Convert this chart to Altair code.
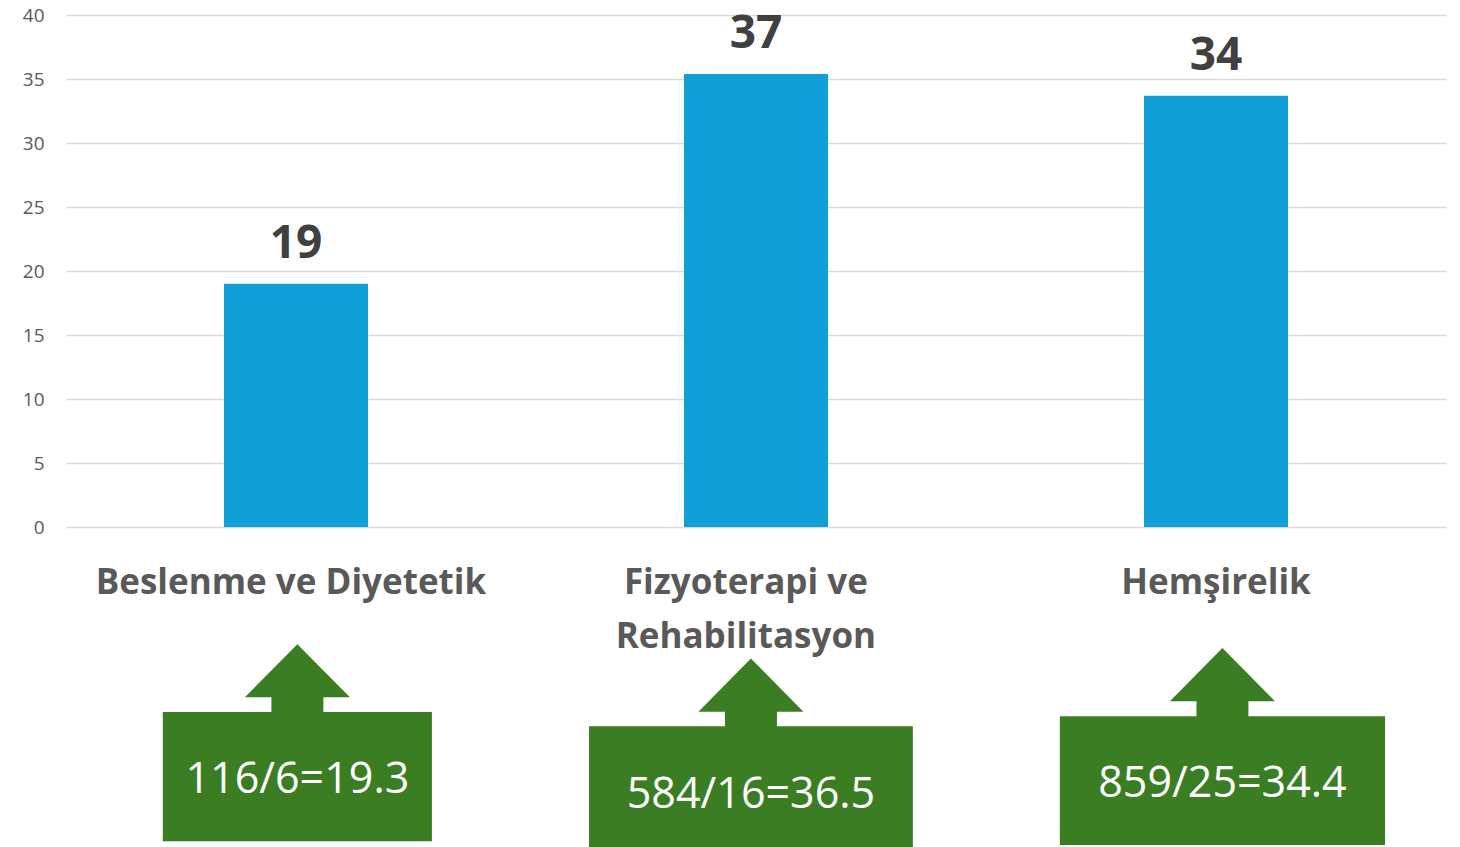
import altair as alt
import pandas as pd

# ---- data ----
categories = ["Beslenme ve Diyetetik", "Fizyoterapi ve\nRehabilitasyon", "Hemşirelik"]
bar_values = [19.0, 35.4, 33.7]
value_labels = ["19", "37", "34"]
box_texts = ["116/6=19.3", "584/16=36.5", "859/25=34.4"]
y_ticks = [0, 5, 10, 15, 20, 25, 30, 35, 40]

# ---- annotation layout (in axis units: x = category slot, y = value scale) ----
label_x = [0.489, 1.478, 2.5]
box_center = [0.503, 1.489, 2.514]
box_width = [0.585, 0.704, 0.707]
box_top = [-14.46, -15.56, -14.78]
box_bottom = [-24.55, -25.0, -24.85]
arrow_y = [-11.81, -12.94, -12.12]
box_text_y = [-20.78, -21.95, -21.1]

BLUE = "#119fd8"
GREEN = "#3b7d23"
FONT = "Open Sans"

df = pd.DataFrame({
    "cat": categories,
    "pos": [i + 0.5 for i in range(len(categories))],
    "value": bar_values,
    "vlabel": value_labels,
    "box_text": box_texts,
    "label_x": label_x,
    "bx": box_center,
    "bx1": [c - w / 2 for c, w in zip(box_center, box_width)],
    "bx2": [c + w / 2 for c, w in zip(box_center, box_width)],
    "by1": box_top,
    "by2": box_bottom,
    "ay": arrow_y,
    "ty": box_text_y,
})

xscale = alt.Scale(domain=[0, 3], nice=False, zero=False, padding=0)
yscale = alt.Scale(domain=[-25, 40], nice=False, zero=False, padding=0)

base = alt.Chart(df)

bars = base.mark_bar(size=144, color=BLUE).encode(
    x=alt.X("pos:Q", scale=xscale, axis=None),
    y=alt.Y("value:Q", scale=yscale,
            axis=alt.Axis(values=y_ticks, grid=True, gridColor="#d9d9d9", gridWidth=1.5,
                          domain=False, ticks=False, labelPadding=22, labelFontSize=19,
                          labelColor="#595959", labelFont=FONT, title=None)),
    y2=alt.datum(0),
)

value_text = base.mark_text(font=FONT, fontSize=46, fontWeight="bold", color="#404040",
                            baseline="alphabetic", dy=-26).encode(
    x=alt.X("pos:Q", scale=xscale),
    y=alt.Y("value:Q", scale=yscale),
    text="vlabel:N",
)

cat_text = base.mark_text(font=FONT, fontSize=35, fontWeight="bold", color="#595959",
                          baseline="alphabetic", dy=67, lineBreak="\n", lineHeight=54).encode(
    x=alt.X("label_x:Q", scale=xscale),
    y=alt.Y(datum=0, scale=yscale),
    text="cat:N",
)

arrow_path = "M0,-0.648L1,0.362L0.495,0.362L0.495,0.72L-0.495,0.72L-0.495,0.362L-1,0.362Z"
arrows = base.mark_point(shape=arrow_path, size=11025, filled=True, color=GREEN,
                         opacity=1, strokeWidth=0).encode(
    x=alt.X("bx:Q", scale=xscale),
    y=alt.Y("ay:Q", scale=yscale),
)

boxes = base.mark_rect(color=GREEN).encode(
    x=alt.X("bx1:Q", scale=xscale),
    x2="bx2:Q",
    y=alt.Y("by1:Q", scale=yscale),
    y2="by2:Q",
)

box_label = base.mark_text(font=FONT, fontSize=43, color="white", baseline="alphabetic").encode(
    x=alt.X("bx:Q", scale=xscale),
    y=alt.Y("ty:Q", scale=yscale),
    text="box_text:N",
)

chart = alt.layer(bars, value_text, cat_text, arrows, boxes, box_label).properties(
    width=1380,
    height=832,
    background="white",
    autosize=alt.AutoSizeParams(type="none"),
    padding={"left": 58, "top": 7, "right": 6, "bottom": 0},
).configure_view(strokeWidth=0)

chart.save("out.html", embed_options={"renderer": "svg", "actions": False})
